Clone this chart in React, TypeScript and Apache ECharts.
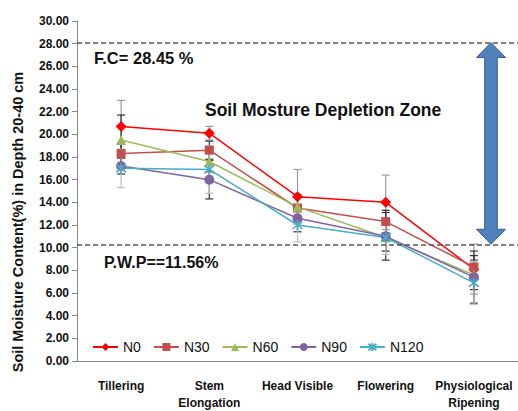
import React, { useEffect, useRef } from "react";
import * as echarts from "echarts";

// Growth stages on the x axis
const categories = [
  "Tillering",
  "Stem\nElongation",
  "Head Visible",
  "Flowering",
  "Physiological\nRipening",
];

// Soil moisture content (%) at 20-40 cm for each nitrogen level
const n0 = [20.7, 20.1, 14.5, 14.0, 8.1];
const n30 = [18.3, 18.6, 13.5, 12.3, 8.3];
const n60 = [19.5, 17.6, 13.6, 10.9, 7.6];
const n90 = [17.2, 16.0, 12.6, 11.0, 7.4];
const n120 = [17.0, 16.9, 12.0, 10.9, 6.9];

// Standard error (±) for each point
const n0Err = [2.3, 0.6, 2.4, 2.4, 2.2];
const n30Err = [1.0, 0.8, 1.0, 1.0, 1.0];
const n60Err = [2.2, 0.9, 1.1, 1.2, 1.3];
const n90Err = [0.7, 1.7, 1.2, 2.1, 2.3];
const n120Err = [1.7, 2.1, 1.5, 1.5, 1.9];

// Field capacity and permanent wilting point reference lines
const FC_LINE = 28.1;
const PWP_LINE = 10.3;

const yTicks = { min: 0, max: 30, interval: 2 };

const FONT = "'Liberation Sans', Arial, sans-serif";

const seriesDefs = [
  { name: "N0", data: n0, err: n0Err, color: "#FF0000", symbol: "diamond", size: 11, errColor: "#9a9a9a" },
  { name: "N30", data: n30, err: n30Err, color: "#C0504D", symbol: "rect", size: 9, errColor: "#333333" },
  { name: "N60", data: n60, err: n60Err, color: "#9BBB59", symbol: "triangle", size: 10, errColor: "#333333" },
  { name: "N90", data: n90, err: n90Err, color: "#8064A2", symbol: "circle", size: 10, errColor: "#333333" },
  {
    name: "N120",
    data: n120,
    err: n120Err,
    color: "#4BACC6",
    symbol: "path://M0,-10 L0,10 M-8,-8 L8,8 M8,-8 L-8,8",
    size: 10,
    errColor: "#bdbdbd",
  },
];

export default function App() {
  const ref = useRef<HTMLDivElement>(null);

  useEffect(() => {
    if (!ref.current) return;
    const chart = echarts.init(ref.current, undefined, { renderer: "svg" });

    const lineSeries = seriesDefs.map((s, i) => ({
      name: s.name,
      type: "line",
      data: s.data,
      symbol: s.symbol,
      symbolSize: s.size,
      z: 3,
      lineStyle: { color: s.color, width: 1.5 },
      itemStyle:
        s.name === "N120"
          ? { color: s.color, borderColor: s.color, borderWidth: 1.6 }
          : { color: s.color },
      ...(i === 0
        ? {
            markLine: {
              silent: true,
              symbol: "none",
              label: { show: false },
              lineStyle: { color: "#555", type: [5, 3], width: 1.5 },
              data: [{ yAxis: FC_LINE }, { yAxis: PWP_LINE }],
            },
          }
        : {}),
    }));

    const errSeries = seriesDefs.map((s) => ({
      name: s.name + " error",
      type: "custom",
      z: 2,
      data: s.data.map((v, j) => [j, v - s.err[j], v + s.err[j]]),
      encode: { x: 0, y: [1, 2] },
      renderItem: (_params: any, api: any) => {
        const x = api.value(0);
        const lo = api.coord([x, api.value(1)]);
        const hi = api.coord([x, api.value(2)]);
        const hw = 4;
        const style = { stroke: s.errColor, lineWidth: 1.2 };
        return {
          type: "group",
          children: [
            { type: "line", shape: { x1: lo[0], y1: lo[1], x2: hi[0], y2: hi[1] }, style },
            { type: "line", shape: { x1: lo[0] - hw, y1: lo[1], x2: lo[0] + hw, y2: lo[1] }, style },
            { type: "line", shape: { x1: hi[0] - hw, y1: hi[1], x2: hi[0] + hw, y2: hi[1] }, style },
          ],
        };
      },
    }));

    chart.setOption({
      animation: false,
      backgroundColor: "#ffffff",
      grid: { left: 77, top: 21, width: 445, height: 348, containLabel: false },
      legend: {
        data: seriesDefs.map((s) => s.name),
        left: 87,
        top: 335,
        itemWidth: 25,
        itemHeight: 10,
        itemGap: 12,
        textStyle: { fontFamily: FONT, fontSize: 14, color: "#111" },
      },
      xAxis: {
        type: "category",
        data: categories,
        boundaryGap: true,
        axisLine: { lineStyle: { color: "#888", width: 1 } },
        axisTick: { show: false },
        axisLabel: {
          interval: 0,
          margin: 16,
          fontFamily: FONT,
          fontSize: 12,
          fontWeight: "bold",
          color: "#111",
          lineHeight: 17,
        },
      },
      yAxis: {
        type: "value",
        min: yTicks.min,
        max: yTicks.max,
        interval: yTicks.interval,
        splitLine: { show: false },
        axisLine: { show: true, lineStyle: { color: "#888", width: 1 } },
        axisTick: { show: true, length: 5, lineStyle: { color: "#888" } },
        axisLabel: {
          margin: 8,
          fontFamily: FONT,
          fontSize: 12,
          fontWeight: "bold",
          color: "#111",
          formatter: (v: number) => v.toFixed(2),
        },
      },
      series: [...errSeries, ...lineSeries],
    });

    // Annotations and the depletion-zone arrow, placed from axis values
    const yTop = chart.convertToPixel({ yAxisIndex: 0 }, FC_LINE) as number;
    const yBot = chart.convertToPixel({ yAxisIndex: 0 }, PWP_LINE) as number;
    const cx = 491;
    const headHalf = 14.5;
    const shaftHalf = 6.3;
    const headH = 15;
    const textStyle = { fontFamily: FONT, fontWeight: "bold", fill: "#111" };

    chart.setOption({
      graphic: [
        {
          type: "text",
          x: 18,
          y: 222,
          rotation: Math.PI / 2,
          style: {
            text: "Soil Moisture Content(%) in Depth 20-40 cm",
            fontFamily: FONT,
            fontSize: 14.5,
            fontWeight: "bold",
            fill: "#111",
            align: "center",
            verticalAlign: "middle",
          },
        },
        { type: "text", x: 94, y: 49, style: { ...textStyle, fontSize: 16.5, text: "F.C= 28.45 %" } },
        { type: "text", x: 205, y: 101, style: { ...textStyle, fontSize: 17.5, text: "Soil Mosture Depletion Zone" } },
        { type: "text", x: 104, y: 254, style: { ...textStyle, fontSize: 16, text: "P.W.P==11.56%" } },
        {
          type: "polygon",
          z: 10,
          shape: {
            points: [
              [cx, yTop],
              [cx + headHalf, yTop + headH],
              [cx + shaftHalf, yTop + headH],
              [cx + shaftHalf, yBot - headH],
              [cx + headHalf, yBot - headH],
              [cx, yBot],
              [cx - headHalf, yBot - headH],
              [cx - shaftHalf, yBot - headH],
              [cx - shaftHalf, yTop + headH],
              [cx - headHalf, yTop + headH],
            ],
          },
          style: { fill: "#4F81BD", stroke: "#385D8A", lineWidth: 1 },
        },
      ],
    });

    return () => chart.dispose();
  }, []);

  return (
    <div
      ref={ref}
      style={{ position: "fixed", left: 0, top: 0, width: 518, height: 411 }}
    />
  );
}
